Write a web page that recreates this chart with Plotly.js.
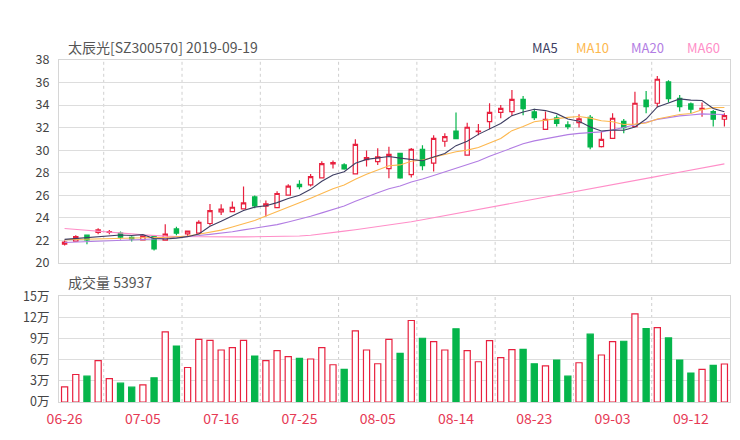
<!DOCTYPE html>
<html>
<head>
<meta charset="utf-8">
<script src="https://cdn.plot.ly/plotly-3.0.1.min.js"></script>
<style>
html,body{margin:0;padding:0;background:#fff;}
#chart{width:740px;height:440px;}
</style>
</head>
<body>
<div id="chart"></div>
<script>
// ---- data ----
const dates = ['06-26','06-27','06-28','07-01','07-02','07-03','07-04','07-05','07-08','07-09',
  '07-10','07-11','07-12','07-15','07-16','07-17','07-18','07-19','07-22','07-23',
  '07-24','07-25','07-26','07-29','07-30','07-31','08-01','08-02','08-05','08-06',
  '08-07','08-08','08-09','08-12','08-13','08-14','08-15','08-16','08-19','08-20',
  '08-21','08-22','08-23','08-26','08-27','08-28','08-29','08-30','09-02','09-03',
  '09-04','09-05','09-06','09-09','09-10','09-11','09-12','09-17','09-18','09-19'];
const tickLabels = ['06-26','07-05','07-16','07-25','08-05','08-14','08-23','09-03','09-12'];

const open  = [21.65,21.92,22.45,22.69,22.69,22.63,22.27,22.04,22.33,22.01,
  23.01,22.57,22.63,23.49,24.52,24.55,24.79,25.85,25.02,24.90,
  26.00,26.97,26.92,27.54,28.78,28.69,27.89,29.16,28.98,28.36,
  29.72,27.83,30.08,28.84,30.79,31.70,29.55,31.64,32.53,33.36,
  33.42,34.51,33.39,31.85,32.86,32.24,32.44,32.92,30.31,31.05,
  32.56,32.09,34.45,34.16,36.05,34.60,34.10,33.63,33.42,32.74];
const high  = [21.98,22.45,22.45,23.07,22.92,22.78,22.36,22.45,22.39,23.43,
  23.19,22.83,23.78,25.23,25.20,25.44,26.77,25.97,25.53,26.35,
  26.97,27.33,27.89,29.01,29.07,28.84,30.96,29.96,30.17,30.31,
  29.74,30.20,30.43,31.32,31.50,33.33,32.44,32.32,34.16,34.01,
  35.34,34.81,33.68,33.42,33.09,32.56,33.18,33.12,31.62,33.27,
  32.77,35.19,35.25,36.58,36.20,34.90,34.22,34.22,33.57,33.27];
const low   = [21.53,21.89,21.65,22.54,22.54,22.07,21.89,22.01,21.09,22.01,
  22.45,22.33,22.60,23.31,24.25,24.52,24.75,24.85,24.11,24.88,
  25.97,26.53,26.77,27.52,28.36,28.25,27.87,28.54,28.69,27.51,
  27.45,27.57,28.22,28.10,30.31,30.96,29.53,31.32,31.85,32.83,
  33.03,33.09,32.68,31.79,32.09,31.85,32.00,30.08,30.23,31.03,
  31.50,32.07,33.27,33.80,34.22,33.42,33.27,32.97,32.09,32.09];
const close = [21.83,22.33,22.04,22.92,22.78,22.27,22.13,22.39,21.24,22.54,
  22.63,22.81,23.60,24.64,24.76,24.93,25.32,25.05,25.23,26.15,
  26.80,26.77,27.65,28.81,28.90,28.33,30.52,29.34,29.40,29.63,
  27.54,30.08,28.63,31.05,31.20,31.02,32.03,31.70,33.36,33.71,
  34.51,33.68,32.89,32.74,32.38,32.09,32.77,30.28,30.96,32.83,
  32.00,34.16,33.86,36.29,34.57,33.86,33.63,33.71,32.74,33.06];
const volume = [21400,39000,36700,58600,33300,26700,21000,24300,34300,99500,
  79500,49000,89000,87600,73800,77100,87600,65200,58600,72900,
  64300,61900,61000,77100,52900,46200,101000,73800,54300,89000,
  69000,115700,90500,85700,73800,103800,72900,57100,87100,62900,
  74300,74800,54300,51400,59500,36700,55700,96200,66700,85700,
  86200,125200,104300,105700,91000,59500,41000,46200,51900,53937];

const ma5  = [22.08,22.15,22.22,22.32,22.38,22.47,22.43,22.50,22.16,22.11,
  22.19,22.32,22.56,23.24,23.69,24.15,24.65,24.94,25.06,25.34,
  25.71,26.00,26.52,27.24,27.79,28.09,28.84,29.18,29.30,29.44,
  29.29,29.20,29.06,29.39,29.70,30.40,30.79,31.40,31.86,32.36,
  33.06,33.39,33.63,33.51,33.24,32.76,32.57,32.05,31.70,31.79,
  31.77,32.05,32.76,33.83,34.18,34.55,34.44,34.41,33.70,33.40];
const ma10 = [22.05,22.08,22.10,22.13,22.16,22.20,22.24,22.27,22.25,22.25,
  22.33,22.38,22.53,22.70,22.90,23.17,23.49,23.75,24.15,24.52,
  24.93,25.33,25.73,26.15,26.57,26.90,27.42,27.85,28.27,28.62,
  28.69,29.02,29.12,29.35,29.57,29.85,30.00,30.23,30.63,31.03,
  31.73,32.09,32.52,32.69,32.80,32.91,32.98,32.84,32.61,32.52,
  32.27,32.31,32.41,32.77,32.99,33.16,33.25,33.59,33.77,33.79];
const ma20 = [21.80,21.83,21.87,21.90,21.94,21.98,22.02,22.07,22.12,22.18,
  22.25,22.33,22.42,22.52,22.63,22.76,22.92,23.07,23.23,23.39,
  23.63,23.86,24.13,24.43,24.74,25.04,25.46,25.80,26.21,26.57,
  26.81,27.18,27.43,27.75,28.07,28.38,28.71,29.04,29.45,29.83,
  30.21,30.56,30.82,31.02,31.19,31.38,31.49,31.54,31.62,31.78,
  32.00,32.20,32.47,32.73,32.90,33.04,33.12,33.22,33.19,33.16];
const ma60 = [23.04,22.97,22.90,22.82,22.75,22.66,22.57,22.48,22.41,22.37,
  22.34,22.32,22.31,22.30,22.30,22.30,22.30,22.31,22.32,22.33,
  22.35,22.38,22.45,22.55,22.68,22.81,22.94,23.07,23.20,23.33,
  23.47,23.64,23.82,24.00,24.18,24.36,24.55,24.74,24.93,25.12,
  25.31,25.50,25.68,25.86,26.04,26.22,26.40,26.58,26.76,26.94,
  27.12,27.30,27.48,27.67,27.86,28.05,28.24,28.42,28.60,28.78];

const volTickVals = [0,30000,60000,90000,120000,150000];
const volTickText = ['0万','3万','6万','9万','12万','15万'];
const priceTicks = [20,22,24,26,28,30,32,34,36,38];

// ---- styles ----
const RED = '#e8203e', GREEN = '#05b54b';
const FONT = '"Noto Sans CJK SC", "Noto Sans", sans-serif';
const maColors = {MA5:'#3e3e63', MA10:'#fdb84f', MA20:'#b27de3', MA60:'#ff8ec8'};

const up = close.map((c,i)=> c >= open[i]);
const volFill = up.map(u => u ? '#ffffff' : GREEN);
const volLine = up.map(u => u ? RED : GREEN);

const traces = [
  {type:'scatter', mode:'lines', x:dates, y:ma60, xaxis:'x', yaxis:'y', line:{color:maColors.MA60, width:1.1}, hoverinfo:'skip', showlegend:false},
  {type:'scatter', mode:'lines', x:dates, y:ma20, xaxis:'x', yaxis:'y', line:{color:maColors.MA20, width:1.1}, hoverinfo:'skip', showlegend:false},
  {type:'scatter', mode:'lines', x:dates, y:ma10, xaxis:'x', yaxis:'y', line:{color:maColors.MA10, width:1.1}, hoverinfo:'skip', showlegend:false},
  {type:'scatter', mode:'lines', x:dates, y:ma5, xaxis:'x', yaxis:'y', line:{color:maColors.MA5, width:1.1}, hoverinfo:'skip', showlegend:false},
  {type:'candlestick', x:dates, open:open, high:high, low:low, close:close, xaxis:'x', yaxis:'y',
   increasing:{line:{color:RED, width:1.2}, fillcolor:'#ffffff'},
   decreasing:{line:{color:GREEN, width:1.2}, fillcolor:GREEN},
   whiskerwidth:0, hoverinfo:'skip', showlegend:false},
  {type:'bar', x:dates, y:volume, xaxis:'x2', yaxis:'y2',
   marker:{color:volFill, line:{color:volLine, width:1.2}}, hoverinfo:'skip', showlegend:false}
];

// vertical dashed grid lines midway between labelled ticks
const shapes = [];
for (let k = 0; k < tickLabels.length - 1; k++) {
  const xv = dates.indexOf(tickLabels[k]) + 3.5;
  shapes.push({type:'line', layer:'below', xref:'x', yref:'y domain', x0:xv, x1:xv, y0:0, y1:1,
    line:{color:'#cfcfcf', width:1, dash:'3px,3px'}});
  shapes.push({type:'line', layer:'below', xref:'x2', yref:'y2 domain', x0:xv, x1:xv, y0:0, y1:1,
    line:{color:'#cfcfcf', width:1, dash:'3px,3px'}});
}

const annotations = [
  {xref:'paper', yref:'paper', x:0.0104, y:1.038, xanchor:'left', yanchor:'middle', showarrow:false,
   text:'太辰光[SZ300570] 2019-09-19', font:{family:FONT, size:14, color:'#555'}},
  {xref:'paper', yref:'paper', x:0.0104, y:0.352, xanchor:'left', yanchor:'middle', showarrow:false,
   text:'成交量 ' + volume[volume.length-1], font:{family:FONT, size:14, color:'#555'}}
];
const legendX = {MA5:0.702, MA10:0.7675, MA20:0.8495, MA60:0.933};
Object.keys(maColors).forEach(k => {
  annotations.push({xref:'paper', yref:'paper', x:legendX[k], y:1.038, xanchor:'left', yanchor:'middle',
    showarrow:false, text:k, font:{family:FONT, size:13, color:maColors[k]}});
});

const axisCommon = {showline:true, mirror:true, linecolor:'#d6d6d6', linewidth:1, zeroline:false, fixedrange:true};

const layout = {
  width:740, height:440,
  margin:{l:59, r:10, t:60, b:38},
  paper_bgcolor:'#ffffff', plot_bgcolor:'#ffffff',
  font:{family:FONT, color:'#444'},
  showlegend:false,
  bargap:0.45, boxgap:0.45,
  hovermode:false,
  xaxis: Object.assign({}, axisCommon, {domain:[0,1], anchor:'y', type:'category', range:[-0.5, dates.length-0.5],
    showticklabels:false, showgrid:false, ticks:'', rangeslider:{visible:false}}),
  yaxis: Object.assign({}, axisCommon, {domain:[0.407,1], anchor:'x', range:[20,38], tickvals:priceTicks,
    showgrid:true, gridcolor:'#dddddd', gridwidth:1, ticks:'', ticklabelstandoff:6,
    tickfont:{family:FONT, size:12.5, color:'#444'}}),
  xaxis2: Object.assign({}, axisCommon, {domain:[0,1], anchor:'y2', type:'category', range:[-0.5, dates.length-0.5],
    tickvals:tickLabels, ticktext:tickLabels, showgrid:false, ticks:'', ticklabelstandoff:4,
    tickfont:{family:FONT, size:14, color:'#e63a55'}}),
  yaxis2: Object.assign({}, axisCommon, {domain:[0,0.309], anchor:'x2', range:[0,150000], tickvals:volTickVals,
    ticktext:volTickText, showgrid:true, gridcolor:'#dddddd', gridwidth:1, ticks:'', ticklabelstandoff:6,
    tickfont:{family:FONT, size:12.5, color:'#444'}}),
  shapes: shapes,
  annotations: annotations
};

Plotly.newPlot('chart', traces, layout, {displayModeBar:false, staticPlot:true});
</script>
</body>
</html>
